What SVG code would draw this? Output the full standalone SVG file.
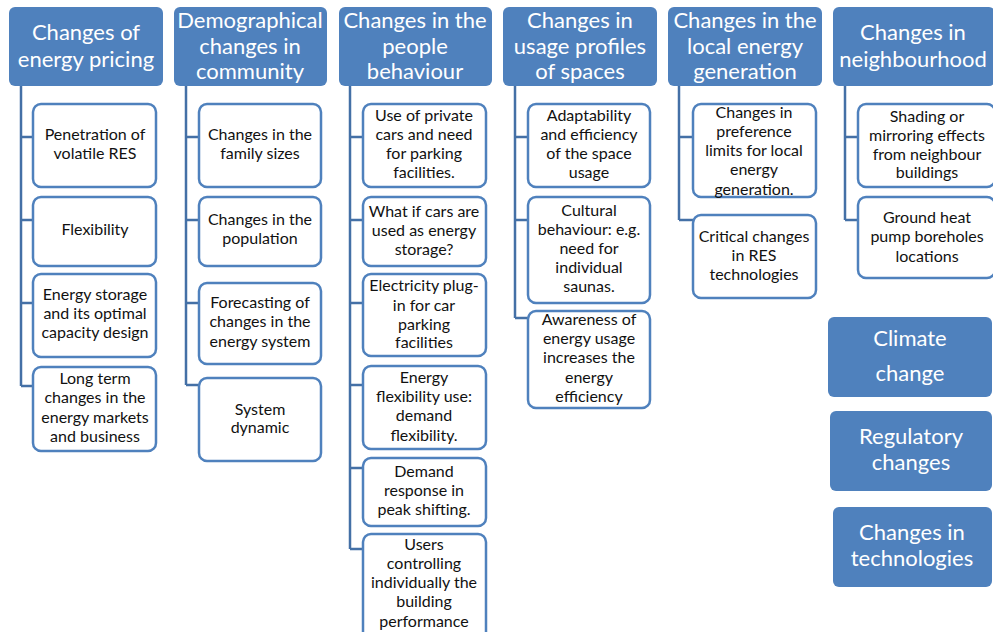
<svg xmlns="http://www.w3.org/2000/svg" width="993" height="632" viewBox="0 0 993 632">
<style>
.hd{fill:#4F81BD;stroke:none}
.ht{fill:#ffffff;font-family:Lato,"Liberation Sans",sans-serif;font-size:22px;text-anchor:middle}
.bx{fill:#ffffff;stroke:#4F81BD;stroke-width:2.5}
.bt{fill:#111111;font-family:Lato,"Liberation Sans",sans-serif;font-size:16px;text-anchor:middle}
.cn{fill:none;stroke:#4470A6;stroke-width:2.5}
</style>
<rect width="993" height="632" fill="#ffffff"/>
<g id="connectors">
<path class="cn" d="M21 86V386M21 137H33M21 220H33M21 303H33M21 386H33"/>
<path class="cn" d="M186 86V385M186 137H199M186 220H199M186 303H199M186 385H199"/>
<path class="cn" d="M350 86V549M350 137H363M350 220H363M350 303H363M350 385H363M350 468H363M350 549H363"/>
<path class="cn" d="M515 86V318M515 137H528M515 220H528M515 318H528"/>
<path class="cn" d="M679 86V220M679 137H693M679 220H693"/>
<path class="cn" d="M845 86V220M845 137H858M845 220H858"/>
</g>
<g id="h1"><rect class="hd" x="9" y="7" width="154" height="79" rx="6"/><text class="ht" x="86" y="40">Changes of</text><text class="ht" x="86" y="67">energy pricing</text></g>
<g id="h2"><rect class="hd" x="174" y="7" width="153" height="79" rx="6"/><text class="ht" x="250" y="28">Demographical</text><text class="ht" x="250" y="54">changes in</text><text class="ht" x="250" y="79">community</text></g>
<g id="h3"><rect class="hd" x="339" y="7" width="153" height="79" rx="6"/><text class="ht" x="415" y="28">Changes in the</text><text class="ht" x="415" y="54">people</text><text class="ht" x="415" y="79">behaviour</text></g>
<g id="h4"><rect class="hd" x="503" y="7" width="154" height="79" rx="6"/><text class="ht" x="580" y="28">Changes in</text><text class="ht" x="580" y="54">usage profiles</text><text class="ht" x="580" y="79">of spaces</text></g>
<g id="h5"><rect class="hd" x="668" y="7" width="154" height="79" rx="6"/><text class="ht" x="745" y="28">Changes in the</text><text class="ht" x="745" y="54">local energy</text><text class="ht" x="745" y="79">generation</text></g>
<g id="h6"><rect class="hd" x="833" y="7" width="162" height="79" rx="6"/><text class="ht" x="913" y="40">Changes in</text><text class="ht" x="913" y="67">neighbourhood</text></g>

<g id="c1a"><rect class="bx" x="33" y="104" width="123" height="83" rx="8"/><text class="bt" x="95" y="140">Penetration of</text><text class="bt" x="95" y="159">volatile RES</text></g>
<g id="c1b"><rect class="bx" x="33" y="197" width="123" height="69" rx="8"/><text class="bt" x="95" y="235">Flexibility</text></g>
<g id="c1c"><rect class="bx" x="33" y="274" width="123" height="83" rx="8"/><text class="bt" x="95" y="300">Energy storage</text><text class="bt" x="95" y="319">and its optimal</text><text class="bt" x="95" y="338">capacity design</text></g>
<g id="c1d"><rect class="bx" x="33" y="367" width="123" height="84" rx="8"/><text class="bt" x="95" y="384">Long term</text><text class="bt" x="95" y="403">changes in the</text><text class="bt" x="95" y="423">energy markets</text><text class="bt" x="95" y="442">and business</text></g>

<g id="c2a"><rect class="bx" x="199" y="104" width="122" height="83" rx="8"/><text class="bt" x="260" y="140">Changes in the</text><text class="bt" x="260" y="159">family sizes</text></g>
<g id="c2b"><rect class="bx" x="199" y="197" width="122" height="69" rx="8"/><text class="bt" x="260" y="225">Changes in the</text><text class="bt" x="260" y="244">population</text></g>
<g id="c2c"><rect class="bx" x="199" y="283" width="122" height="81" rx="8"/><text class="bt" x="260" y="308">Forecasting of</text><text class="bt" x="260" y="327">changes in the</text><text class="bt" x="260" y="347">energy system</text></g>
<g id="c2d"><rect class="bx" x="199" y="378" width="122" height="83" rx="8"/><text class="bt" x="260" y="415">System</text><text class="bt" x="260" y="433">dynamic</text></g>

<g id="c3a"><rect class="bx" x="363" y="104" width="123" height="83" rx="8"/><text class="bt" x="424" y="121">Use of private</text><text class="bt" x="424" y="140">cars and need</text><text class="bt" x="424" y="159">for parking</text><text class="bt" x="424" y="178">facilities.</text></g>
<g id="c3b"><rect class="bx" x="363" y="197" width="123" height="69" rx="8"/><text class="bt" x="424" y="217">What if cars are</text><text class="bt" x="424" y="236">used as energy</text><text class="bt" x="424" y="255">storage?</text></g>
<g id="c3c"><rect class="bx" x="363" y="274" width="123" height="82" rx="8"/><text class="bt" x="424" y="291">Electricity plug-</text><text class="bt" x="424" y="311">in for car</text><text class="bt" x="424" y="330">parking</text><text class="bt" x="424" y="348">facilities</text></g>
<g id="c3d"><rect class="bx" x="363" y="366" width="123" height="83" rx="8"/><text class="bt" x="424" y="383">Energy</text><text class="bt" x="424" y="402">flexibility use:</text><text class="bt" x="424" y="421">demand</text><text class="bt" x="424" y="441">flexibility.</text></g>
<g id="c3e"><rect class="bx" x="363" y="458" width="123" height="68" rx="8"/><text class="bt" x="424" y="477">Demand</text><text class="bt" x="424" y="496">response in</text><text class="bt" x="424" y="515">peak shifting.</text></g>
<g id="c3f"><rect class="bx" x="363" y="534" width="123" height="106" rx="8"/><text class="bt" x="424" y="550">Users</text><text class="bt" x="424" y="569">controlling</text><text class="bt" x="424" y="588">individually the</text><text class="bt" x="424" y="607">building</text><text class="bt" x="424" y="627">performance</text></g>

<g id="c4a"><rect class="bx" x="528" y="104" width="122" height="83" rx="8"/><text class="bt" x="589" y="121">Adaptability</text><text class="bt" x="589" y="140">and efficiency</text><text class="bt" x="589" y="159">of the space</text><text class="bt" x="589" y="178">usage</text></g>
<g id="c4b"><rect class="bx" x="528" y="197" width="122" height="106" rx="8"/><text class="bt" x="589" y="216">Cultural</text><text class="bt" x="589" y="235">behaviour: e.g.</text><text class="bt" x="589" y="254">need for</text><text class="bt" x="589" y="273">individual</text><text class="bt" x="589" y="292">saunas.</text></g>
<g id="c4c"><rect class="bx" x="528" y="311" width="122" height="97" rx="8"/><text class="bt" x="589" y="325">Awareness of</text><text class="bt" x="589" y="344">energy usage</text><text class="bt" x="589" y="363">increases the</text><text class="bt" x="589" y="383">energy</text><text class="bt" x="589" y="402">efficiency</text></g>

<g id="c5a"><rect class="bx" x="693" y="104" width="123" height="93" rx="8"/><text class="bt" x="754" y="118">Changes in</text><text class="bt" x="754" y="137">preference</text><text class="bt" x="754" y="156">limits for local</text><text class="bt" x="754" y="175">energy</text><text class="bt" x="754" y="195">generation.</text></g>
<g id="c5b"><rect class="bx" x="693" y="215" width="123" height="83" rx="8"/><text class="bt" x="754" y="242">Critical changes</text><text class="bt" x="754" y="261">in RES</text><text class="bt" x="754" y="280">technologies</text></g>

<g id="c6a"><rect class="bx" x="858" y="104" width="137" height="83" rx="8"/><text class="bt" x="927" y="122">Shading or</text><text class="bt" x="927" y="141">mirroring effects</text><text class="bt" x="927" y="160">from neighbour</text><text class="bt" x="927" y="178">buildings</text></g>
<g id="c6b"><rect class="bx" x="858" y="197" width="137" height="81" rx="8"/><text class="bt" x="927" y="223">Ground heat</text><text class="bt" x="927" y="242">pump boreholes</text><text class="bt" x="927" y="262">locations</text></g>

<g id="r1"><rect class="hd" x="828" y="317" width="164" height="80" rx="6"/><text class="ht" x="910" y="346">Climate</text><text class="ht" x="910" y="381">change</text></g>
<g id="r2"><rect class="hd" x="830" y="411" width="162" height="80" rx="6"/><text class="ht" x="911" y="444">Regulatory</text><text class="ht" x="911" y="470">changes</text></g>
<g id="r3"><rect class="hd" x="833" y="507" width="159" height="80" rx="6"/><text class="ht" x="912" y="540">Changes in</text><text class="ht" x="912" y="566">technologies</text></g>
</svg>
